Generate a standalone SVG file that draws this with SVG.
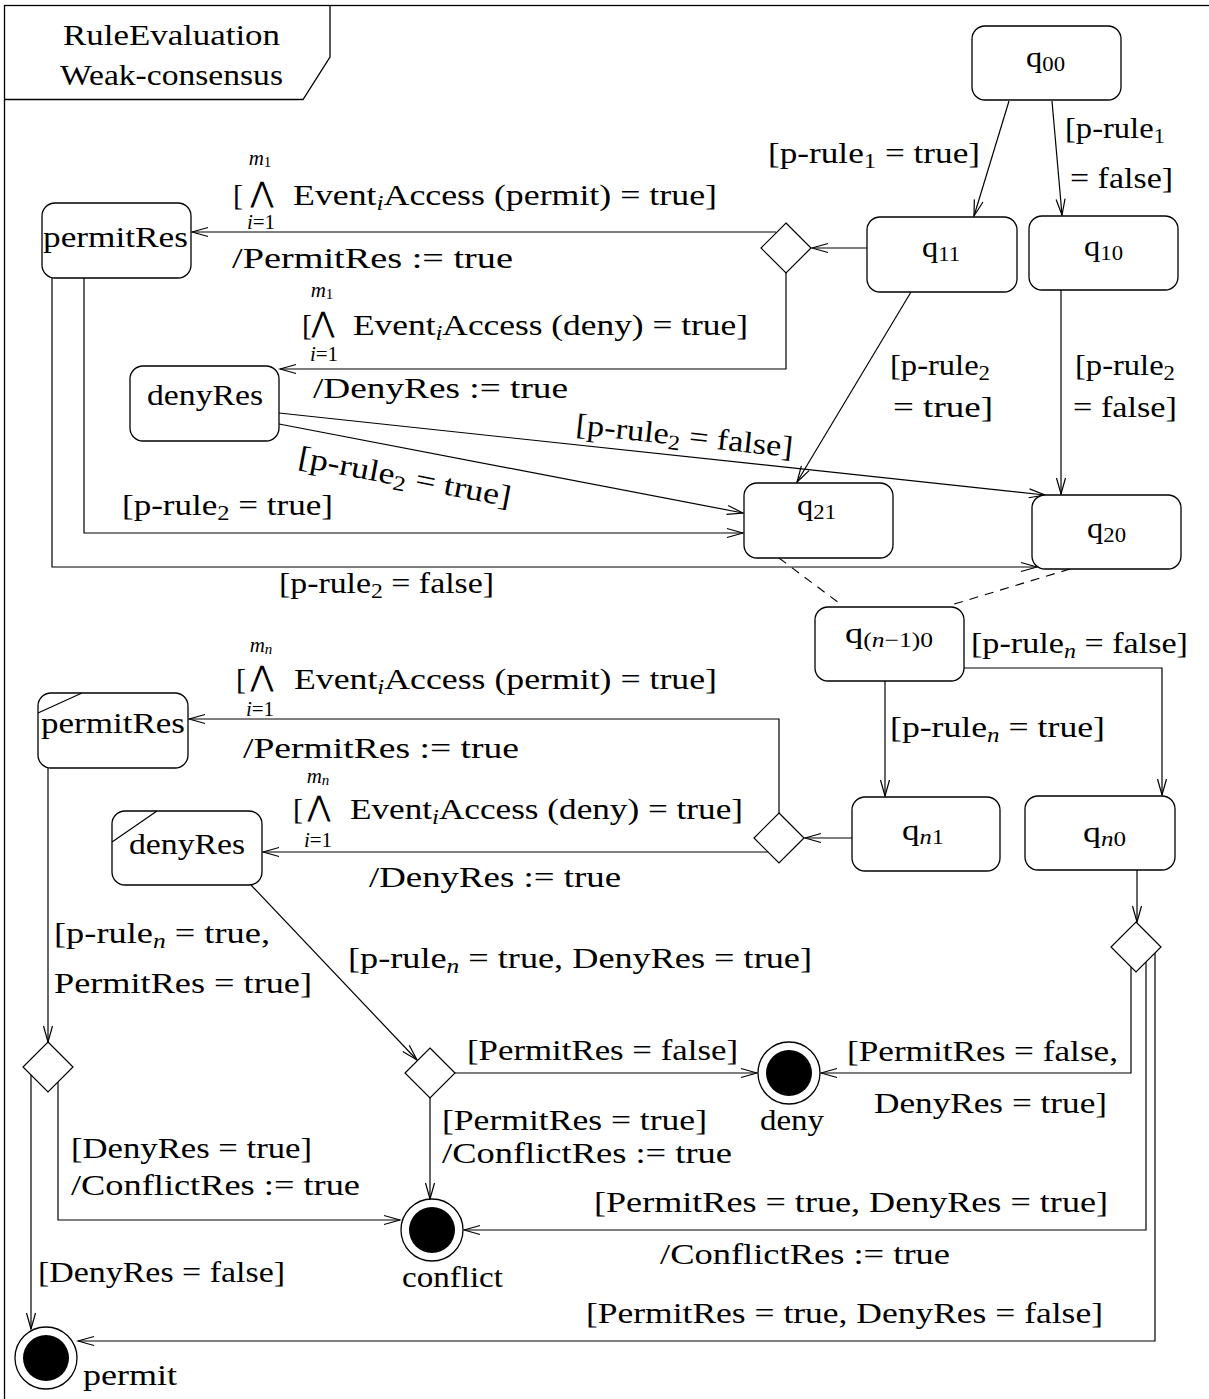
<svg xmlns="http://www.w3.org/2000/svg" width="1209" height="1399" viewBox="0 0 1209 1399">
  <style>
    text { font-family: "Liberation Serif", "Times New Roman", serif; font-size: 30px; fill: #000; }
    .s { font-size: 21px; }
    .ss { font-size: 15px; }
    .it { font-style: italic; }
    .mid { text-anchor: middle; }
    .op { font-family: "DejaVu Sans", sans-serif; font-size: 28px; text-anchor: middle; }
    .lim { font-size: 21px; text-anchor: middle; }
    .state rect { fill: #fff; stroke: #000; stroke-width: 1.3; }
    .state line { stroke: #000; stroke-width: 1.2; }
    .choice polygon { fill: #fff; stroke: #000; stroke-width: 1.2; }
    .final .ring { fill: #fff; stroke: #000; stroke-width: 1.3; }
    .final .dot { fill: #000; }
    .edge { fill: none; stroke: #000; stroke-width: 1.2; marker-end: url(#open); }
    .dash { fill: none; stroke: #000; stroke-width: 1.1; stroke-dasharray: 9 7; }
    .frame { fill: none; stroke: #000; stroke-width: 1.3; }
  </style>
  <defs>
    <marker id="open" markerUnits="userSpaceOnUse" markerWidth="20" markerHeight="12" viewBox="-17 -6 18 12" refX="0" refY="0" orient="auto">
      <path d="M-16,-4.5 L0,0 L-16,4.5" fill="none" stroke="#000" stroke-width="1.2"/>
    </marker>
  </defs>

  <rect width="1209" height="1399" fill="#fff"/>

  <!-- frame and name tab -->
  <g id="frame">
    <rect class="frame" x="4.5" y="5.5" width="1230" height="1430"/>
    <path class="frame" d="M4.5,99.5 H303 L330,57 V5.5"/>
    <text x="63" y="45" textLength="217" lengthAdjust="spacingAndGlyphs">RuleEvaluation</text>
    <text x="60" y="85" textLength="223" lengthAdjust="spacingAndGlyphs">Weak-consensus</text>
  </g>

  <!-- connectors -->
  <g id="connectors">
    <path class="edge" d="M1009,101 L974,216"/>
    <path class="edge" d="M1052,101 L1062,215"/>
    <path class="edge" d="M867,248 L812,248"/>
    <path class="edge" d="M776,232 L192,232"/>
    <path class="edge" d="M786,273 V369 H280"/>
    <path class="edge" d="M911,292 L797,482"/>
    <path class="edge" d="M1061,290 V494"/>
    <path class="edge" d="M279,413 L1045,495"/>
    <path class="edge" d="M279,424 L743,513"/>
    <path class="edge" d="M84,278 V533 H743"/>
    <path class="edge" d="M52,278 V567 H1037"/>
    <path class="dash" d="M779,558 L839,603"/>
    <path class="dash" d="M1070,569 L951,605"/>
    <path class="edge" d="M885,681 V796"/>
    <path class="edge" d="M964,668 H1162 V795"/>
    <path class="edge" d="M852,838 L805,838"/>
    <path class="edge" d="M779,813 V719 H189"/>
    <path class="edge" d="M768,852 H263"/>
    <path class="edge" d="M48,768 V1042"/>
    <path class="edge" d="M251,885 L417,1060"/>
    <path class="edge" d="M58,1082 V1220 H400"/>
    <path class="edge" d="M31,1075 V1329"/>
    <path class="edge" d="M430,1098 V1199"/>
    <path class="edge" d="M455,1073 H757"/>
    <path class="edge" d="M1137,870 V922"/>
    <path class="edge" d="M1131,967 V1073 H821"/>
    <path class="edge" d="M1146,962 V1230 H464"/>
    <path class="edge" d="M1155,953 V1341 H78"/>

    <!-- guards and effects -->
    <text x="768" y="163" textLength="212" lengthAdjust="spacingAndGlyphs">[p-rule<tspan class="s" dy="5">1</tspan><tspan dy="-5"> = true]</tspan></text>
    <text x="1065" y="138" textLength="100" lengthAdjust="spacingAndGlyphs">[p-rule<tspan class="s" dy="5">1</tspan></text>
    <text x="1070" y="188" textLength="103" lengthAdjust="spacingAndGlyphs">= false]</text>

    <text x="233" y="205">[</text>
    <text class="op" x="262" y="202">⋀</text>
    <text class="lim it" x="260" y="165">m<tspan class="ss" dy="2" font-style="normal">1</tspan></text>
    <text class="lim" x="261" y="229"><tspan class="it">i</tspan>=1</text>
    <text x="293" y="205" textLength="424" lengthAdjust="spacingAndGlyphs">Event<tspan class="s it" dy="5">i</tspan><tspan dy="-5">Access (permit) = true]</tspan></text>
    <text x="232" y="268" textLength="281" lengthAdjust="spacingAndGlyphs">/PermitRes := true</text>

    <text x="302" y="335">[</text>
    <text class="op" x="323" y="332">⋀</text>
    <text class="lim it" x="322" y="297">m<tspan class="ss" dy="2" font-style="normal">1</tspan></text>
    <text class="lim" x="324" y="361"><tspan class="it">i</tspan>=1</text>
    <text x="353" y="335" textLength="395" lengthAdjust="spacingAndGlyphs">Event<tspan class="s it" dy="5">i</tspan><tspan dy="-5">Access (deny) = true]</tspan></text>
    <text x="313" y="398" textLength="255" lengthAdjust="spacingAndGlyphs">/DenyRes := true</text>

    <text x="890" y="375" textLength="100" lengthAdjust="spacingAndGlyphs">[p-rule<tspan class="s" dy="5">2</tspan></text>
    <text x="893" y="417" textLength="100" lengthAdjust="spacingAndGlyphs">= true]</text>
    <text x="1075" y="375" textLength="100" lengthAdjust="spacingAndGlyphs">[p-rule<tspan class="s" dy="5">2</tspan></text>
    <text x="1073" y="417" textLength="104" lengthAdjust="spacingAndGlyphs">= false]</text>

    <text x="575" y="434" transform="rotate(6.1 575 434)" textLength="218" lengthAdjust="spacingAndGlyphs">[p-rule<tspan class="s" dy="5">2</tspan><tspan dy="-5"> = false]</tspan></text>
    <text x="297" y="466" transform="rotate(10.9 297 466)" textLength="216" lengthAdjust="spacingAndGlyphs">[p-rule<tspan class="s" dy="5">2</tspan><tspan dy="-5"> = true]</tspan></text>
    <text x="122" y="515" textLength="211" lengthAdjust="spacingAndGlyphs">[p-rule<tspan class="s" dy="5">2</tspan><tspan dy="-5"> = true]</tspan></text>
    <text x="279" y="593" textLength="215" lengthAdjust="spacingAndGlyphs">[p-rule<tspan class="s" dy="5">2</tspan><tspan dy="-5"> = false]</tspan></text>

    <text x="971" y="653" textLength="217" lengthAdjust="spacingAndGlyphs">[p-rule<tspan class="s it" dy="5">n</tspan><tspan dy="-5"> = false]</tspan></text>
    <text x="890" y="737" textLength="215" lengthAdjust="spacingAndGlyphs">[p-rule<tspan class="s it" dy="5">n</tspan><tspan dy="-5"> = true]</tspan></text>

    <text x="236" y="689">[</text>
    <text class="op" x="262" y="686">⋀</text>
    <text class="lim it" x="261" y="652">m<tspan class="ss" dy="2">n</tspan></text>
    <text class="lim" x="260" y="716"><tspan class="it">i</tspan>=1</text>
    <text x="294" y="689" textLength="423" lengthAdjust="spacingAndGlyphs">Event<tspan class="s it" dy="5">i</tspan><tspan dy="-5">Access (permit) = true]</tspan></text>
    <text x="243" y="758" textLength="276" lengthAdjust="spacingAndGlyphs">/PermitRes := true</text>

    <text x="293" y="819">[</text>
    <text class="op" x="319" y="816">⋀</text>
    <text class="lim it" x="318" y="783">m<tspan class="ss" dy="2">n</tspan></text>
    <text class="lim" x="318" y="847"><tspan class="it">i</tspan>=1</text>
    <text x="350" y="819" textLength="393" lengthAdjust="spacingAndGlyphs">Event<tspan class="s it" dy="5">i</tspan><tspan dy="-5">Access (deny) = true]</tspan></text>
    <text x="369" y="887" textLength="252" lengthAdjust="spacingAndGlyphs">/DenyRes := true</text>

    <text x="54" y="943" textLength="216" lengthAdjust="spacingAndGlyphs">[p-rule<tspan class="s it" dy="5">n</tspan><tspan dy="-5"> = true,</tspan></text>
    <text x="54" y="993" textLength="258" lengthAdjust="spacingAndGlyphs">PermitRes = true]</text>
    <text x="348" y="968" textLength="464" lengthAdjust="spacingAndGlyphs">[p-rule<tspan class="s it" dy="5">n</tspan><tspan dy="-5"> = true, DenyRes = true]</tspan></text>

    <text x="467" y="1060" textLength="271" lengthAdjust="spacingAndGlyphs">[PermitRes = false]</text>
    <text x="442" y="1130" textLength="265" lengthAdjust="spacingAndGlyphs">[PermitRes = true]</text>
    <text x="442" y="1163" textLength="290" lengthAdjust="spacingAndGlyphs">/ConflictRes := true</text>
    <text x="71" y="1158" textLength="241" lengthAdjust="spacingAndGlyphs">[DenyRes = true]</text>
    <text x="71" y="1195" textLength="289" lengthAdjust="spacingAndGlyphs">/ConflictRes := true</text>
    <text x="38" y="1282" textLength="247" lengthAdjust="spacingAndGlyphs">[DenyRes = false]</text>

    <text x="847" y="1061" textLength="271" lengthAdjust="spacingAndGlyphs">[PermitRes = false,</text>
    <text x="874" y="1113" textLength="233" lengthAdjust="spacingAndGlyphs">DenyRes = true]</text>
    <text x="594" y="1212" textLength="514" lengthAdjust="spacingAndGlyphs">[PermitRes = true, DenyRes = true]</text>
    <text x="660" y="1264" textLength="290" lengthAdjust="spacingAndGlyphs">/ConflictRes := true</text>
    <text x="586" y="1323" textLength="517" lengthAdjust="spacingAndGlyphs">[PermitRes = true, DenyRes = false]</text>
  </g>

  <!-- states -->
  <g id="q00" class="state"><rect x="972" y="26" width="149" height="74" rx="13"/><text class="mid" x="1045.5" y="67" textLength="39" lengthAdjust="spacingAndGlyphs">q<tspan class="s" dy="4">00</tspan></text></g>
  <g id="q11" class="state"><rect x="867" y="217" width="150" height="75" rx="13"/><text class="mid" x="941" y="257" textLength="38" lengthAdjust="spacingAndGlyphs">q<tspan class="s" dy="4">11</tspan></text></g>
  <g id="q10" class="state"><rect x="1029" y="216" width="149" height="74" rx="13"/><text class="mid" x="1103.5" y="256" textLength="39" lengthAdjust="spacingAndGlyphs">q<tspan class="s" dy="4">10</tspan></text></g>
  <g id="permitRes1" class="state"><rect x="42" y="203" width="149" height="75" rx="13"/><text class="mid" x="115.5" y="247" textLength="145" lengthAdjust="spacingAndGlyphs">permitRes</text></g>
  <g id="denyRes1" class="state"><rect x="130" y="366" width="149" height="75" rx="13"/><text class="mid" x="205" y="405" textLength="116" lengthAdjust="spacingAndGlyphs">denyRes</text></g>
  <g id="q21" class="state"><rect x="744" y="483" width="149" height="75" rx="13"/><text class="mid" x="816.5" y="515" textLength="39" lengthAdjust="spacingAndGlyphs">q<tspan class="s" dy="4">21</tspan></text></g>
  <g id="q20" class="state"><rect x="1032" y="495" width="149" height="74" rx="13"/><text class="mid" x="1106.5" y="538" textLength="39" lengthAdjust="spacingAndGlyphs">q<tspan class="s" dy="4">20</tspan></text></g>
  <g id="qn-1_0" class="state"><rect x="815" y="607" width="149" height="74" rx="13"/><text class="mid" x="889" y="643" textLength="88" lengthAdjust="spacingAndGlyphs">q<tspan class="s" dy="4">(<tspan class="it">n</tspan>−1)0</tspan></text></g>
  <g id="qn1" class="state"><rect x="852" y="797" width="148" height="74" rx="13"/><text class="mid" x="923" y="840" textLength="42" lengthAdjust="spacingAndGlyphs">q<tspan class="s" dy="4"><tspan class="it">n</tspan>1</tspan></text></g>
  <g id="qn0" class="state"><rect x="1025" y="796" width="150" height="74" rx="13"/><text class="mid" x="1104.5" y="842" textLength="43" lengthAdjust="spacingAndGlyphs">q<tspan class="s" dy="4"><tspan class="it">n</tspan>0</tspan></text></g>
  <g id="permitRes2" class="state"><rect x="38" y="693" width="150" height="75" rx="13"/><line x1="38" y1="713" x2="82" y2="693"/><text class="mid" x="113" y="733" textLength="144" lengthAdjust="spacingAndGlyphs">permitRes</text></g>
  <g id="denyRes2" class="state"><rect x="112" y="811" width="150" height="74" rx="13"/><line x1="112" y1="842" x2="157" y2="811"/><text class="mid" x="187" y="854" textLength="116" lengthAdjust="spacingAndGlyphs">denyRes</text></g>

  <!-- choice points -->
  <g id="choice1" class="choice"><polygon points="786,223 811,248 786,273 761,248"/></g>
  <g id="choice2" class="choice"><polygon points="779,813 804,838 779,863 754,838"/></g>
  <g id="choice3" class="choice"><polygon points="48,1042 73,1067 48,1092 23,1067"/></g>
  <g id="choice4" class="choice"><polygon points="430,1048 455,1073 430,1098 405,1073"/></g>
  <g id="choice5" class="choice"><polygon points="1136,922 1161,947 1136,972 1111,947"/></g>

  <!-- final states -->
  <g id="deny" class="final"><circle class="ring" cx="789" cy="1073" r="31"/><circle class="dot" cx="789" cy="1073" r="23"/><text x="760" y="1130" textLength="64" lengthAdjust="spacingAndGlyphs">deny</text></g>
  <g id="conflict" class="final"><circle class="ring" cx="432" cy="1230" r="31"/><circle class="dot" cx="432" cy="1230" r="23"/><text x="402" y="1287" textLength="101" lengthAdjust="spacingAndGlyphs">conflict</text></g>
  <g id="permit" class="final"><circle class="ring" cx="46" cy="1358" r="31"/><circle class="dot" cx="46" cy="1358" r="23"/><text x="83" y="1385" textLength="94" lengthAdjust="spacingAndGlyphs">permit</text></g>
</svg>
